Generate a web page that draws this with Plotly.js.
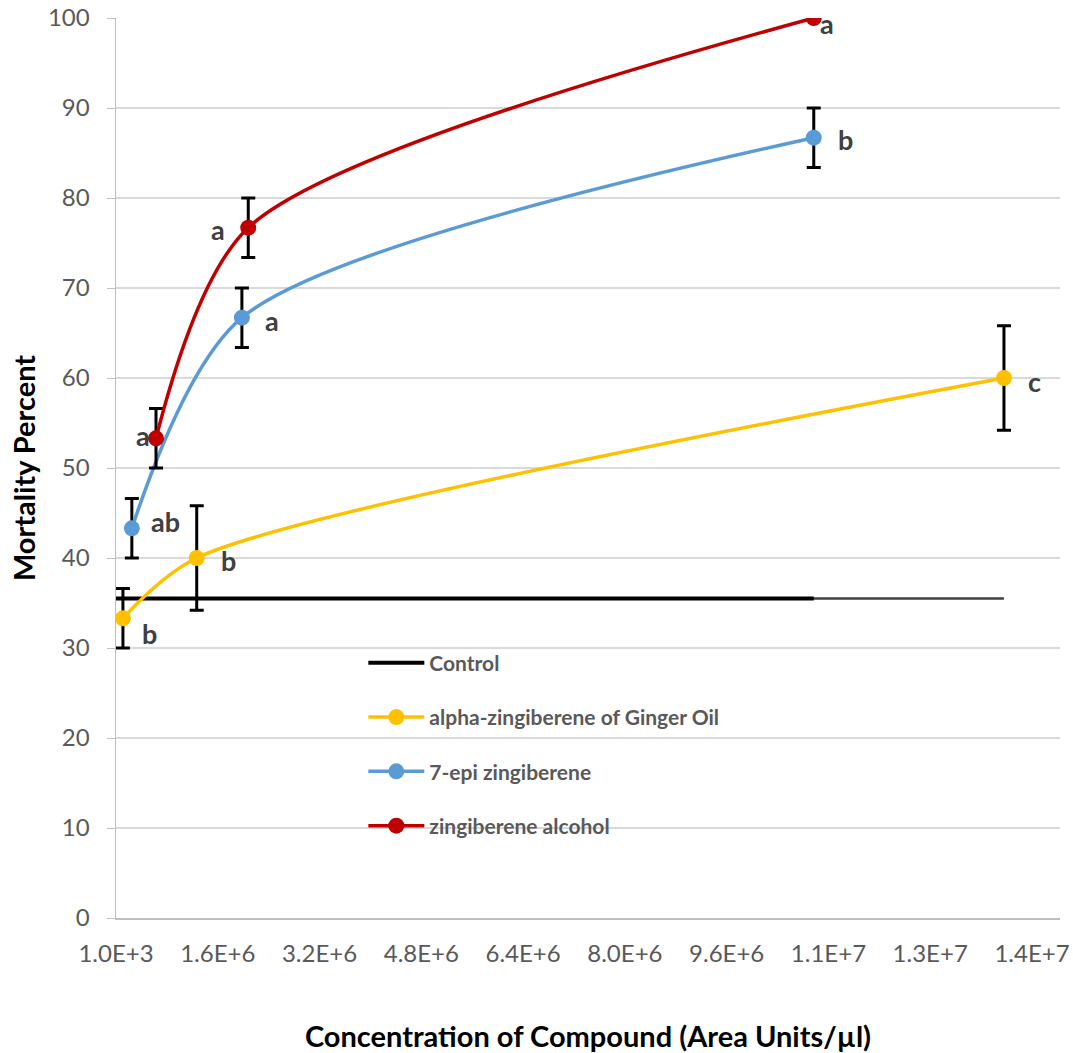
<!DOCTYPE html>
<html>
<head>
<meta charset="utf-8">
<script src="https://cdn.plot.ly/plotly-3.0.1.min.js"></script>
<style>html,body{margin:0;padding:0;background:#fff;}#chart{width:1073px;height:1053px;}</style>
</head>
<body>
<div id="chart"></div>
<script>
// ---- data ----
const controlX = [1000, 10970000];
const controlXFull = [1000, 13960000];
const controlY = [35.5, 35.5];

const alphaX = [110000, 1270000, 13960000];
const alphaY = [33.3, 40, 60];
const alphaErr = [3.3, 5.8, 5.8];
const alphaLabels = ["b", "b", "c"];

const epiX = [250000, 1980000, 10970000];
const epiY = [43.3, 66.7, 86.7];
const epiErr = [3.3, 3.3, 3.3];
const epiLabels = ["ab", "a", "b"];

const alcX = [630000, 2080000, 10970000];
const alcY = [53.3, 76.7, 100];
const alcErr = [3.3, 3.3, 0];
const alcLabels = ["a", "a", "a"];

const tickVals = [1000, 1601000, 3201000, 4801000, 6401000, 8001000, 9601000, 11201000, 12801000, 14401000];
const tickText = ["1.0E+3", "1.6E+6", "3.2E+6", "4.8E+6", "6.4E+6", "8.0E+6", "9.6E+6", "1.1E+7", "1.3E+7", "1.4E+7"];

// ---- styles ----
const FONT = "Lato, 'Open Sans', sans-serif";
const SMOOTH = 0.8;
const err = arr => ({type: 'data', array: arr, visible: true, color: '#000', thickness: 3, width: 7});

const traces = [
  {x: controlXFull, y: controlY, mode: 'lines', line: {color: '#404040', width: 2.5}, showlegend: false, hoverinfo: 'skip'},
  {x: controlX, y: controlY, mode: 'lines', name: 'Control', line: {color: '#000', width: 4}, legendgroup: 'g1'},
  {x: alphaX, y: alphaY, mode: 'lines+markers', name: 'alpha-zingiberene of Ginger Oil',
   line: {color: '#FFC000', width: 3.5, shape: 'spline', smoothing: SMOOTH}, marker: {color: '#FFC000', size: 16},
   error_y: err(alphaErr), legendgroup: 'g2'},
  {x: epiX, y: epiY, mode: 'lines+markers', name: '7-epi zingiberene',
   line: {color: '#5B9BD5', width: 3.5, shape: 'spline', smoothing: SMOOTH}, marker: {color: '#5B9BD5', size: 16},
   error_y: err(epiErr), legendgroup: 'g3'},
  {x: alcX, y: alcY, mode: 'lines+markers', name: 'zingiberene alcohol',
   line: {color: '#C00000', width: 3.5, shape: 'spline', smoothing: SMOOTH}, marker: {color: '#C00000', size: 16},
   error_y: err(alcErr), legendgroup: 'g4'}
];

// label offsets (pixels)
const labelSets = [
  {x: alphaX, y: alphaY, t: alphaLabels, dx: [27, 32, 31], dy: [-15, -2, -3]},
  {x: epiX, y: epiY, t: epiLabels, dx: [34, 30, 32], dy: [7, -3, -2]},
  {x: alcX, y: alcY, t: alcLabels, dx: [-13, -30, 13], dy: [3, -2, -5]}
];
const annotations = [];
labelSets.forEach(s => s.t.forEach((t, i) => {
  annotations.push({x: s.x[i], y: s.y[i], xref: 'x', yref: 'y', text: '<b>' + t + '</b>', showarrow: false,
    xshift: s.dx[i], yshift: s.dy[i], font: {family: FONT, size: 27, color: '#404040'}});
}));

const layout = {
  width: 1073, height: 1053,
  margin: {l: 116, r: 13, t: 18, b: 135},
  paper_bgcolor: '#fff', plot_bgcolor: '#fff',
  font: {family: FONT, color: '#595959'},
  showlegend: true,
  legend: {x: 0.262, y: 0.306, xanchor: 'left', yanchor: 'top', bgcolor: 'rgba(0,0,0,0)',
    font: {family: FONT, size: 21, color: '#595959', weight: 'bold'}, tracegroupgap: 24, itemwidth: 56},
  xaxis: {range: [1000, 14841000], tickmode: 'array', tickvals: tickVals, ticktext: tickText,
    showgrid: false, zeroline: false, showline: true, linecolor: '#BFBFBF', linewidth: 1.5,
    ticks: '', ticklabelstandoff: 14, tickfont: {family: FONT, size: 24, color: '#595959'},
    title: {text: '<b>Concentration of Compound (Area Units/µl)</b>', font: {family: FONT, size: 29, color: '#000'}, standoff: 61}},
  yaxis: {range: [0, 100], dtick: 10, showgrid: true, gridcolor: '#D9D9D9', gridwidth: 1.5, zeroline: false,
    showline: true, linecolor: '#BFBFBF', linewidth: 1.5, ticks: 'outside', ticklen: 8, tickcolor: '#BFBFBF',
    ticklabelstandoff: 12, tickfont: {family: FONT, size: 24, color: '#595959'},
    title: {text: '<b>Mortality Percent</b>', font: {family: FONT, size: 29, color: '#000'}, standoff: 4}},
  annotations: annotations
};

Plotly.newPlot('chart', traces, layout, {displayModeBar: false, staticPlot: true});
</script>
</body>
</html>
